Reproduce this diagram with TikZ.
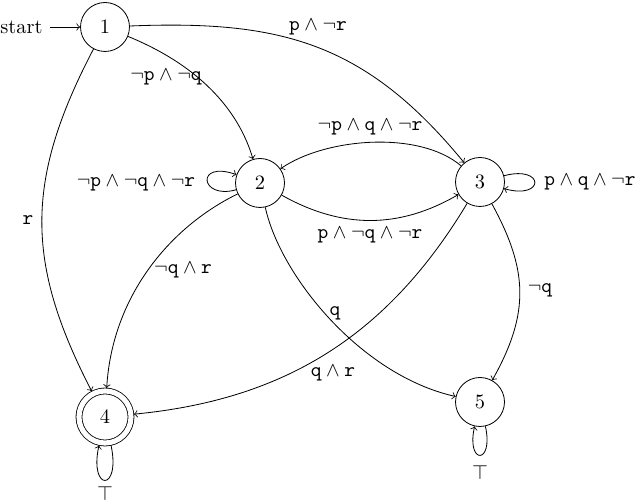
\documentclass[tikz,border=0pt]{standalone}
\usetikzlibrary{arrows}
\begin{document}
\begin{tikzpicture}[x=0.49pt,y=0.49pt,
  st/.style={circle,draw,minimum size=24pt,inner sep=0pt},
  acc/.style={st,double,double distance=2.5pt,minimum size=25.5pt,outer sep=1.5pt},
  tr/.style={->},
  lbl/.style={inner sep=0pt}]
\useasboundingbox (0,0) rectangle (640,502);
\node[st] (1) at (105,475) {1};
\node[st] (2) at (260,319) {2};
\node[st] (3) at (480,320) {3};
\node[acc] (4) at (105,85) {4};
\node[st] (5) at (480,100) {5};
\node (start) at (21.5,475) {start};
\draw[tr] (start) -- (1);
\draw[tr] (1) .. controls (280,482) and (365,460) .. (3)
  node[lbl] at (318,475) {$\mathtt{p}\wedge\neg\mathtt{r}$};
\draw[tr] (1) .. controls (205,434) and (240,387) .. (2)
  node[lbl] at (166,425) {$\neg\mathtt{p}\wedge\neg\mathtt{q}$};
\draw[tr] (1) .. controls (25,322) and (25,240) .. (4)
  node[lbl] at (28,282) {$\mathtt{r}$};
\draw[tr] (2) .. controls (200,302) and (195,342) .. (2)
  node[lbl] at (136,319) {$\neg\mathtt{p}\wedge\neg\mathtt{q}\wedge\neg\mathtt{r}$};
\draw[tr] (3) .. controls (419,372) and (325,364) .. (2)
  node[lbl] at (370,375) {$\neg\mathtt{p}\wedge\mathtt{q}\wedge\neg\mathtt{r}$};
\draw[tr] (2) .. controls (342,273) and (399,273) .. (3)
  node[lbl] at (370,267) {$\mathtt{p}\wedge\neg\mathtt{q}\wedge\neg\mathtt{r}$};
\draw[tr] (3) .. controls (545,337) and (545,302) .. (3)
  node[lbl] at (590,320) {$\mathtt{p}\wedge\mathtt{q}\wedge\neg\mathtt{r}$};
\draw[tr] (2) .. controls (168,274) and (112,204) .. (4)
  node[lbl] at (183,232) {$\neg\mathtt{q}\wedge\mathtt{r}$};
\draw[tr] (2) .. controls (280,227) and (360,127) .. (5)
  node[lbl] at (335,189) {$\mathtt{q}$};
\draw[tr] (3) .. controls (385,162) and (280,102) .. (4)
  node[lbl] at (333,129) {$\mathtt{q}\wedge\mathtt{r}$};
\draw[tr] (3) .. controls (528,232) and (530,189) .. (5)
  node[lbl] at (540,212) {$\neg\mathtt{q}$};
\draw[tr] (4) .. controls (121,10) and (89,10) .. (4)
  node[lbl] at (105,9) {$\top$};
\draw[tr] (5) .. controls (494,37) and (466,37) .. (5)
  node[lbl] at (480,30) {$\top$};
\end{tikzpicture}
\end{document}
